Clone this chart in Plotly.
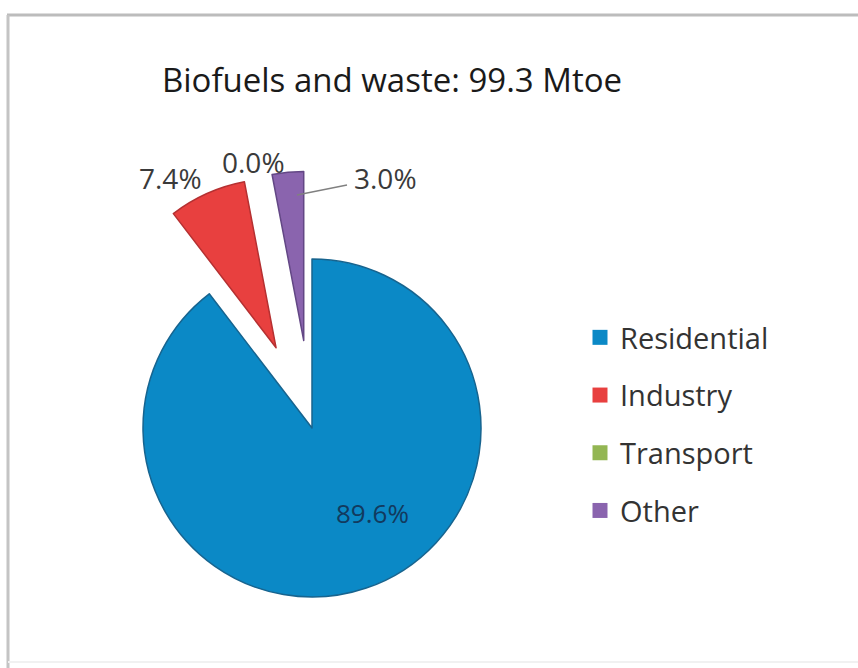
import math
import plotly.graph_objects as go

# Final energy consumption of biofuels and waste, shares by sector
categories = ["Residential", "Industry", "Transport", "Other"]
shares = [89.6, 7.4, 0.0, 3.0]
explode = [0.0, 0.52, 0.0, 0.52]
colors = ["#0b89c6", "#e8403f", "#93b653", "#8a64ae"]
edge_colors = ["#17648f", "#b53031", "#6f8c3d", "#634785"]
title_text = "Biofuels and waste: 99.3 Mtoe"

W, H = 858, 668
CX, CY, R = 312, 428, 169          # pie centre and radius in pixels
FONT = "Open Sans"

# where each percentage label sits (pixels)
label_pos = {
    "Residential": (372, 513),
    "Industry": (170, 178),
    "Transport": (253, 162),
    "Other": (385, 178),
}
label_colors = {"Residential": "#123a5e"}


def px_x(x):
    return x / W


def px_y(y):
    return 1 - y / H


fig = go.Figure()

# one pie per visible slice so exploded slices keep the full radius
total = sum(shares)
start = 0.0
for i, (cat, val) in enumerate(zip(categories, shares)):
    mid = (start + val / 2) / total * 2 * math.pi
    start += val
    if val == 0:
        continue
    d = explode[i] * R
    cx = CX + d * math.sin(mid)
    cy = CY - d * math.cos(mid)
    slice_colors = [colors[j] if j == i else "rgba(0,0,0,0)" for j in range(len(shares))]
    line_colors = [edge_colors[j] if j == i else "rgba(0,0,0,0)" for j in range(len(shares))]
    line_widths = [1.5 if j == i else 0 for j in range(len(shares))]
    fig.add_trace(go.Pie(
        labels=categories,
        values=shares,
        sort=False,
        direction="clockwise",
        rotation=0,
        marker=dict(colors=slice_colors, line=dict(color=line_colors, width=line_widths)),
        textinfo="none",
        hoverinfo="skip",
        showlegend=False,
        domain=dict(x=[px_x(cx - R), px_x(cx + R)], y=[px_y(cy + R), px_y(cy - R)]),
    ))

# legend entries with square swatches
for cat, col in zip(categories, colors):
    fig.add_trace(go.Scatter(
        x=[None], y=[None], mode="markers", name=cat, legendgroup=cat,
        marker=dict(symbol="square", size=15, color=col),
        showlegend=True, hoverinfo="skip",
    ))

annotations = []
for cat, val in zip(categories, shares):
    x, y = label_pos[cat]
    annotations.append(dict(
        x=px_x(x), y=px_y(y), xref="paper", yref="paper",
        text=f"{val:.1f}%", showarrow=False, xanchor="center", yanchor="middle",
        font=dict(family=FONT, size=28 if cat != "Residential" else 26,
                  color=label_colors.get(cat, "#3a3a3a")),
    ))

shapes = [
    # leader line for the small "Other" slice
    dict(type="line", xref="paper", yref="paper",
         x0=px_x(297), y0=px_y(195), x1=px_x(347), y1=px_y(185),
         line=dict(color="#808080", width=1.5)),
    # chart frame
    dict(type="line", xref="paper", yref="paper",
         x0=px_x(7), y0=px_y(15), x1=1, y1=px_y(15),
         line=dict(color="#bcbcbc", width=3)),
    dict(type="line", xref="paper", yref="paper",
         x0=px_x(8), y0=px_y(15), x1=px_x(8), y1=0,
         line=dict(color="#c4c4c4", width=3)),
    dict(type="line", xref="paper", yref="paper",
         x0=px_x(8), y0=px_y(662), x1=1, y1=px_y(662),
         line=dict(color="#f1f1f1", width=2)),
]

fig.update_layout(
    width=W, height=H,
    margin=dict(l=0, r=0, t=0, b=0),
    paper_bgcolor="white", plot_bgcolor="white",
    font=dict(family=FONT, color="#333333"),
    title=dict(text=title_text, x=px_x(392), y=px_y(80), xanchor="center", yanchor="middle",
               font=dict(family=FONT, size=33, color="#1a1a1a")),
    xaxis=dict(visible=False), yaxis=dict(visible=False),
    legend=dict(x=px_x(580), y=px_y(312), xanchor="left", yanchor="top",
                font=dict(family=FONT, size=29, color="#333333"),
                tracegroupgap=17, bgcolor="rgba(0,0,0,0)"),
    annotations=annotations,
    shapes=shapes,
)

fig.write_html("out.html")
